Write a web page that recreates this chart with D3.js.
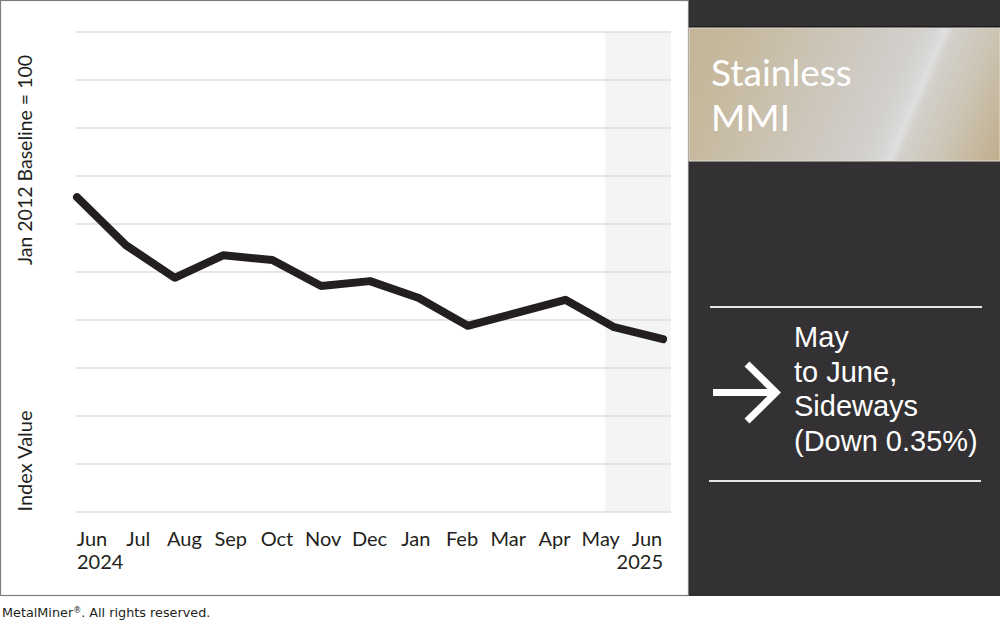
<!DOCTYPE html>
<html>
<head>
<meta charset="utf-8">
<script src="https://cdn.jsdelivr.net/npm/d3@7"></script>
<style>
html,body{margin:0;padding:0;background:#fff;}
svg{display:block;}
</style>
</head>
<body>
<svg id="chart" width="1000" height="622"></svg>
<script>
// ---- data ----
const categories = ["Jun 2024","Jul 2024","Aug 2024","Sep 2024","Oct 2024","Nov 2024","Dec 2024","Jan 2025","Feb 2025","Mar 2025","Apr 2025","May 2025","Jun 2025"];
const monthLabels = ["Jun","Jul","Aug","Sep","Oct","Nov","Dec","Jan","Feb","Mar","Apr","May","Jun"];
const yearLabels = ["2024","2025"];
const indexValues = [215.6, 205.6, 198.8, 203.5, 202.5, 197.1, 198.1, 194.6, 188.8, 191.5, 194.2, 188.5, 186.0];
const gridTicks = [150,160,170,180,190,200,210,220,230,240,250];
const titleLines = ["Stainless","MMI"];
const summaryLines = ["May","to June,","Sideways","(Down 0.35%)"];
const yTitleTop = "Jan 2012 Baseline = 100";
const yTitleBottom = "Index Value";
const footer = "MetalMiner";

const svg = d3.select("#chart");

// ---- backgrounds ----
svg.append("rect").attr("x",0.5).attr("y",0.5).attr("width",688).attr("height",595)
  .attr("fill","#fff").attr("stroke","#7d7d7d").attr("stroke-width",1.2);
svg.append("rect").attr("x",689).attr("y",0).attr("width",311).attr("height",596).attr("fill","#333133");

// ---- scales ----
const x = d3.scalePoint().domain(categories).range([77,663]);
const xl = d3.scalePoint().domain(categories).range([92,647]);
const y = d3.scaleLinear().domain([150,250]).range([512,32]);

// shaded latest period
const step = x.step();
svg.append("rect")
  .attr("x", x("May 2025") - 0.18*step)
  .attr("y", y(250))
  .attr("width", x.range()[1] + 8 - (x("May 2025") - 0.18*step))
  .attr("height", y(150) - y(250))
  .attr("fill","#f3f5f4");

// gridlines
svg.append("g").selectAll("line").data(gridTicks).join("line")
  .attr("x1", x.range()[0] - 1).attr("x2", x.range()[1] + 8)
  .attr("y1", d => y(d)).attr("y2", d => y(d))
  .attr("stroke","#dcdcdc").attr("stroke-width",1.6);

// line
const line = d3.line().x((d,i) => x(categories[i])).y(d => y(d));
svg.append("path").datum(indexValues)
  .attr("d", line)
  .attr("fill","none").attr("stroke","#231f20").attr("stroke-width",8)
  .attr("stroke-linejoin","round").attr("stroke-linecap","round");

// x labels
const labelFont = "Lato, 'Open Sans', sans-serif";
svg.append("g").selectAll("text").data(categories).join("text")
  .attr("x", d => xl(d)).attr("y", 546)
  .attr("text-anchor","middle")
  .attr("font-family", labelFont).attr("font-size", 20).attr("fill","#231f20")
  .text((d,i) => monthLabels[i]);
svg.append("text").attr("x", x(categories[0])).attr("y", 569)
  .attr("font-family", labelFont).attr("font-size", 20).attr("fill","#231f20")
  .text(yearLabels[0]);
svg.append("text").attr("x", x(categories[categories.length-1])).attr("y", 569)
  .attr("text-anchor","end")
  .attr("font-family", labelFont).attr("font-size", 20).attr("fill","#231f20")
  .text(yearLabels[1]);

// y titles
svg.append("text").attr("transform","translate(32,160) rotate(-90)")
  .attr("text-anchor","middle")
  .attr("font-family", labelFont).attr("font-size", 19.5).attr("fill","#231f20")
  .text(yTitleTop);
svg.append("text").attr("transform","translate(32,461) rotate(-90)")
  .attr("text-anchor","middle")
  .attr("font-family", labelFont).attr("font-size", 20).attr("fill","#231f20")
  .text(yTitleBottom);

// ---- right panel ----
const defs = svg.append("defs");
const grad = defs.append("linearGradient").attr("id","gold")
  .attr("gradientUnits","userSpaceOnUse")
  .attr("x1",689).attr("y1",28).attr("x2",1000).attr("y2",161);
[["0%","#c4b597"],["15%","#c6b99e"],["40%","#ccc5b8"],["60%","#d1cecb"],["67%","#d6d6d4"],["70%","#dfdfdf"],["72.5%","#d3d0ca"],["82%","#cdc6b8"],["100%","#c1ae8c"]]
  .forEach(s => grad.append("stop").attr("offset",s[0]).attr("stop-color",s[1]));

svg.append("rect").attr("x",689).attr("y",26).attr("width",311).attr("height",2).attr("fill","#1e1d1e");
svg.append("rect").attr("x",689).attr("y",28).attr("width",311).attr("height",133)
  .attr("fill","url(#gold)").attr("stroke","#e2dccf").attr("stroke-width",1);

svg.append("g").selectAll("text").data(titleLines).join("text")
  .attr("x",711).attr("y",(d,i) => 86 + i*45)
  .attr("font-family", labelFont).attr("font-size",37).attr("fill","#fff")
  .text(d => d);

// separator lines
svg.append("line").attr("x1",710).attr("x2",982).attr("y1",307).attr("y2",307)
  .attr("stroke","#e6e6e6").attr("stroke-width",2);
svg.append("line").attr("x1",709).attr("x2",981).attr("y1",481).attr("y2",481)
  .attr("stroke","#e6e6e6").attr("stroke-width",2);

// arrow
svg.append("path").attr("d","M713,392.5 L776,392.5")
  .attr("stroke","#fff").attr("stroke-width",7).attr("fill","none");
svg.append("path").attr("d","M747,364 L776,392.5 L747,421")
  .attr("stroke","#fff").attr("stroke-width",7).attr("fill","none").attr("stroke-linejoin","miter");

svg.append("g").selectAll("text").data(summaryLines).join("text")
  .attr("x",794).attr("y",(d,i) => 347 + i*34.5)
  .attr("font-family","'Liberation Sans', Arial, sans-serif").attr("font-size",29).attr("fill","#fff")
  .text(d => d);

// footer
const ft = svg.append("text").attr("x",2).attr("y",617)
  .attr("font-family","'DejaVu Sans', Verdana, sans-serif").attr("font-size",12.8).attr("fill","#231f20");
ft.append("tspan").text(footer);
ft.append("tspan").attr("font-size",8).attr("dy",-4.5).text("®");
ft.append("tspan").attr("dy",4.5).text(". All rights reserved.");
</script>
</body>
</html>
